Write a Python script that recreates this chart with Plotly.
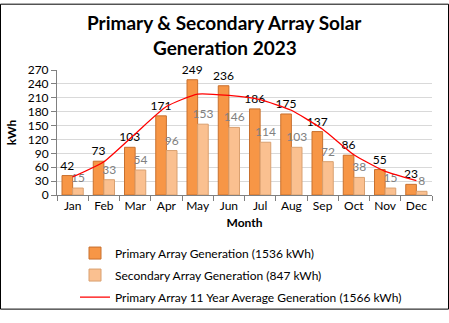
import plotly.graph_objects as go

months = ["Jan", "Feb", "Mar", "Apr", "May", "Jun", "Jul", "Aug", "Sep", "Oct", "Nov", "Dec"]
primary = [42, 73, 103, 171, 249, 236, 186, 175, 137, 86, 55, 23]
secondary = [15, 33, 54, 96, 153, 146, 114, 103, 72, 38, 15, 8]
average = [39, 72, 132, 191, 218, 215, 206, 183, 142, 87, 51, 31]

FONT = "Lato"
W, H = 449, 323
L, R, T, B = 57, 17, 70, 121
PW, PH = W - L - R, H - T - B

def py(pix):
    return (T + PH - pix) / PH

def px(pix):
    return (pix - L) / PW

fig = go.Figure()
fig.add_trace(go.Bar(
    x=months, y=primary, name="Primary Array Generation (1536 kWh)",
    marker=dict(color="#F79646", line=dict(color="#C8702E", width=1)),
    text=primary, textposition="outside", cliponaxis=False, constraintext="none",
    textfont=dict(color="#000000", size=12, family=FONT),
    legendgroup="a",
))
fig.add_trace(go.Bar(
    x=months, y=secondary, name="Secondary Array Generation (847 kWh)",
    marker=dict(color="#FAC090", line=dict(color="#D9A070", width=1)),
    text=secondary, textposition="outside", cliponaxis=False, constraintext="none",
    textfont=dict(color="#808080", size=12, family=FONT),
    legendgroup="b",
))
fig.add_trace(go.Scatter(
    x=months, y=average, name="Primary Array 11 Year Average Generation (1566 kWh)",
    mode="lines", line=dict(color="#FF0000", width=1.3, shape="spline", smoothing=0.5),
    legendgroup="c",
))

for txt, yc in [("Primary & Secondary Array Solar", 20), ("Generation 2023", 46)]:
    fig.add_annotation(
        text="<b>" + txt + "</b>", xref="paper", yref="paper",
        x=px(224.5), y=py(yc), xanchor="center", yanchor="middle",
        showarrow=False, font=dict(size=19, family=FONT, color="#000000"),
    )

fig.update_layout(
    width=W, height=H,
    margin=dict(l=L, r=R, t=T, b=B, pad=0),
    paper_bgcolor="white", plot_bgcolor="white",
    font=dict(family=FONT, size=12, color="#000000"),
    barmode="group", bargap=0.32, bargroupgap=0.0,
    showlegend=True,
    legend=dict(
        orientation="v", x=px(75), xanchor="left",
        y=py(248), yanchor="top",
        font=dict(size=12, family=FONT, color="#000000"),
        tracegroupgap=3, bgcolor="rgba(0,0,0,0)",
    ),
    xaxis=dict(
        title=dict(text="<b>Month</b>", font=dict(size=12, family=FONT), standoff=6),
        showline=True, linecolor="#808080", linewidth=1,
        ticks="outside", tickson="boundaries", ticklen=5, tickcolor="#808080",
        tickfont=dict(size=12, family=FONT), showgrid=False, tickangle=0,
    ),
    yaxis=dict(
        title=dict(text="<b>kWh</b>", font=dict(size=12, family=FONT), standoff=8),
        range=[0, 270], dtick=30, tick0=0,
        showline=True, linecolor="#808080", linewidth=1,
        ticks="outside", ticklen=5, tickcolor="#808080",
        gridcolor="#D9D9D9", gridwidth=1,
        tickfont=dict(size=12, family=FONT), zeroline=False,
    ),
)

# outer border of chart area
fig.add_shape(
    type="rect", xref="paper", yref="paper",
    x0=px(0.5), x1=px(W - 0.5), y0=py(H - 0.5), y1=py(0.5),
    line=dict(color="#000000", width=1), fillcolor="rgba(0,0,0,0)", layer="above",
)

fig.write_html("out.html")
